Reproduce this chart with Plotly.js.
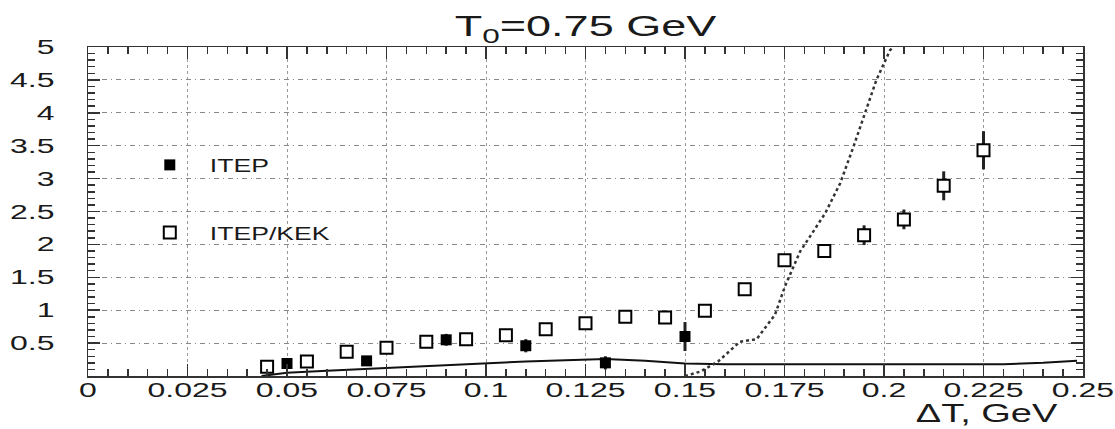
<!DOCTYPE html>
<html>
<head>
<meta charset="utf-8">
<script src="https://cdn.plot.ly/plotly-3.0.1.min.js"></script>
<style>
  html, body { margin: 0; padding: 0; background: #fff; }
  #chart { width: 1115px; height: 429px; }
</style>
</head>
<body>
<div id="chart"></div>
<script>
// ITEP/KEK measurements (open squares)
const kekX   = [0.045, 0.055, 0.065, 0.075, 0.085, 0.095, 0.105, 0.115, 0.125, 0.135,
                0.145, 0.155, 0.165, 0.175, 0.185, 0.195, 0.205, 0.215, 0.225];
const kekY   = [0.14, 0.22, 0.37, 0.43, 0.52, 0.56, 0.62, 0.71, 0.80, 0.90,
                0.89, 0.99, 1.32, 1.76, 1.90, 2.14, 2.38, 2.89, 3.43];
const kekErr = [0.03, 0.03, 0.03, 0.03, 0.03, 0.03, 0.03, 0.03, 0.03, 0.03,
                0.03, 0.03, 0.04, 0.06, 0.10, 0.15, 0.15, 0.22, 0.29];

// ITEP measurements (filled squares)
const itepX   = [0.05, 0.07, 0.09, 0.11, 0.13, 0.15];
const itepY   = [0.19, 0.23, 0.55, 0.46, 0.20, 0.60];
const itepErr = [0.03, 0.03, 0.09, 0.10, 0.10, 0.22];

// Model curve (solid)
const solidX = [0.0436, 0.05, 0.06, 0.07, 0.08, 0.09, 0.10, 0.11, 0.12, 0.13, 0.14,
                0.15, 0.16, 0.17, 0.18, 0.19, 0.20, 0.21, 0.22, 0.23, 0.24, 0.2485];
const solidY = [0.0, 0.05, 0.08, 0.11, 0.14, 0.17, 0.20, 0.22, 0.24, 0.26, 0.23,
                0.19, 0.18, 0.18, 0.18, 0.18, 0.18, 0.18, 0.17, 0.18, 0.20, 0.23];

// Model curve (dotted)
const dotX = [0.150, 0.154, 0.1583, 0.1638, 0.168, 0.1726, 0.1751, 0.1789, 0.1852,
              0.189, 0.1923, 0.1952, 0.1981, 0.2015, 0.2023];
const dotY = [0.0, 0.07, 0.22, 0.52, 0.56, 0.93, 1.36, 1.89, 2.47,
              2.93, 3.48, 3.99, 4.50, 4.95, 5.0];

// Tick labels
const xTickVals = [0, 0.025, 0.05, 0.075, 0.1, 0.125, 0.15, 0.175, 0.2, 0.225, 0.25];
const xTickText = ['0', '0.025', '0.05', '0.075', '0.1', '0.125', '0.15', '0.175', '0.2', '0.225', '0.25'];
const yTickVals = [0.5, 1, 1.5, 2, 2.5, 3, 3.5, 4, 4.5, 5];
const yTickText = ['0.5', '1', '1.5', '2', '2.5', '3', '3.5', '4', '4.5', '5'];

const FONT = 'Liberation Sans, Arial, Helvetica, sans-serif';
const INK = '#1a1a1a';

const traces = [
  {
    x: solidX, y: solidY, type: 'scatter', mode: 'lines',
    line: { color: '#111', width: 2 }, showlegend: false, hoverinfo: 'skip'
  },
  {
    x: dotX, y: dotY, type: 'scatter', mode: 'lines',
    line: { color: '#333', width: 2.5, dash: 'dot' }, showlegend: false, hoverinfo: 'skip'
  },
  {
    x: itepX, y: itepY, type: 'scatter', mode: 'markers', name: 'ITEP',
    legendgroup: 'a',
    marker: { symbol: 'square', size: 11, color: '#000' },
    error_y: { type: 'data', array: itepErr, visible: true, color: '#222', thickness: 3, width: 0 }
  },
  {
    x: kekX, y: kekY, type: 'scatter', mode: 'markers', name: 'ITEP/KEK',
    legendgroup: 'b',
    marker: { symbol: 'square', size: 12, color: '#fff', line: { width: 2, color: '#000' } },
    error_y: { type: 'data', array: kekErr, visible: true, color: '#222', thickness: 3, width: 0 }
  }
];

const layout = {
  width: 1115, height: 429,
  margin: { l: 88, r: 32, t: 47, b: 53 },
  paper_bgcolor: '#fff', plot_bgcolor: '#fff',
  font: { family: FONT, color: INK, size: 20 },
  title: {
    text: 'T<sub>0</sub>=0.75 GeV',
    font: { family: FONT, size: 30, color: INK },
    xref: 'paper', x: 0.5, xanchor: 'center',
    yref: 'container', y: 0.94, yanchor: 'middle'
  },
  xaxis: {
    range: [0, 0.25],
    tickmode: 'array', tickvals: xTickVals, ticktext: xTickText,
    ticks: 'inside', ticklen: 12, tickwidth: 1.5, tickcolor: '#333',
    minor: { tickmode: 'linear', tick0: 0, dtick: 0.005, ticks: 'inside', ticklen: 7, tickwidth: 1.5, tickcolor: '#333', showgrid: false },
    showline: true, linecolor: '#333', linewidth: 1.5, mirror: 'allticks',
    showgrid: true, gridcolor: '#999', gridwidth: 1, griddash: 'dot',
    zeroline: false,
    ticklabelstandoff: -5,
    tickfont: { family: FONT, size: 20, color: INK }
  },
  yaxis: {
    range: [0, 5],
    tickmode: 'array', tickvals: yTickVals, ticktext: yTickText,
    ticks: 'inside', ticklen: 12, tickwidth: 1.5, tickcolor: '#333',
    minor: { tickmode: 'linear', tick0: 0, dtick: 0.1, ticks: 'inside', ticklen: 7, tickwidth: 1.5, tickcolor: '#333', showgrid: false },
    showline: true, linecolor: '#333', linewidth: 1.5, mirror: 'allticks',
    showgrid: true, gridcolor: '#888', gridwidth: 1, griddash: '5px,4px,1px,4px',
    zeroline: false,
    ticklabelstandoff: 28,
    tickfont: { family: FONT, size: 20, color: INK }
  },
  legend: {
    x: 0.042, xanchor: 'left', y: 0.699, yanchor: 'top',
    bgcolor: 'rgba(0,0,0,0)', borderwidth: 0,
    font: { family: FONT, size: 19, color: INK },
    traceorder: 'grouped', tracegroupgap: 40, itemwidth: 70
  },
  annotations: [
    {
      text: '\u0394T, GeV', xref: 'paper', yref: 'paper',
      x: 0.903, y: -0.158, xanchor: 'center', yanchor: 'bottom',
      borderpad: 0,
      showarrow: false, font: { family: FONT, size: 25, color: INK }
    }
  ]
};

// The labels are set in a widened face: stretch each text run horizontally.
function widen(root, sel, k) {
  root.querySelectorAll(sel).forEach(function (t) {
    const w = t.getComputedTextLength();
    if (w > 0) {
      t.setAttribute('textLength', (w * k).toFixed(1));
      t.setAttribute('lengthAdjust', 'spacingAndGlyphs');
    }
  });
}

const gd = document.getElementById('chart');
Plotly.newPlot(gd, traces, layout, { staticPlot: true, displayModeBar: false }).then(function () {
  widen(gd, '.xtick text', 1.6);
  widen(gd, '.ytick text', 1.6);
  widen(gd, '.gtitle', 1.5);
  widen(gd, '.legendtext', 1.4);
  widen(gd, '.annotation-text', 1.52);
  // widened legend labels run past the legend's clip box
  gd.querySelectorAll('.legend [clip-path]').forEach(function (el) {
    el.removeAttribute('clip-path');
  });
});
</script>
</body>
</html>
